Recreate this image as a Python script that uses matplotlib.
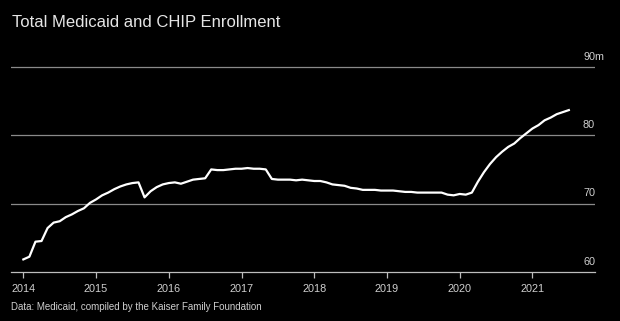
import numpy as np
import matplotlib
matplotlib.use("Agg")
import matplotlib.pyplot as plt

# monthly enrollment, millions, Jan 2014 .. Jul 2021
enroll_2014 = [61.8, 62.2, 64.4, 64.5, 66.4, 67.2, 67.4, 68.0, 68.4, 68.9, 69.3, 70.1]
enroll_2015 = [70.6, 71.2, 71.6, 72.1, 72.5, 72.8, 73.0, 73.1, 70.9, 71.8, 72.4, 72.8]
enroll_2016 = [73.0, 73.1, 72.9, 73.2, 73.5, 73.6, 73.7, 75.0, 74.9, 74.9, 75.0, 75.1]
enroll_2017 = [75.1, 75.2, 75.1, 75.1, 75.0, 73.6, 73.5, 73.5, 73.5, 73.4, 73.5, 73.4]
enroll_2018 = [73.3, 73.3, 73.1, 72.8, 72.7, 72.6, 72.3, 72.2, 72.0, 72.0, 72.0, 71.9]
enroll_2019 = [71.9, 71.9, 71.8, 71.7, 71.7, 71.6, 71.6, 71.6, 71.6, 71.6, 71.3, 71.2]
enroll_2020 = [71.4, 71.3, 71.6, 73.2, 74.6, 75.8, 76.8, 77.6, 78.3, 78.8, 79.6, 80.3]
enroll_2021 = [81.0, 81.5, 82.2, 82.6, 83.1, 83.4, 83.7]

years = [2014, 2015, 2016, 2017, 2018, 2019, 2020, 2021]
y_ticks = [60, 70, 80, 90]
y_labels = ["60", "70", "80", "90m"]

values = (enroll_2014 + enroll_2015 + enroll_2016 + enroll_2017
          + enroll_2018 + enroll_2019 + enroll_2020 + enroll_2021)
dates = 2014 + np.arange(len(values)) / 12.0

plt.rcParams["font.family"] = ["Liberation Sans", "DejaVu Sans"]

fig = plt.figure(figsize=(6.2, 3.21), dpi=100, facecolor="black")
ax = fig.add_axes([0.0177, 0.1536, 0.9420, 0.6585], facecolor="black")

ax.plot(dates, values, color="white", lw=1.6, solid_joinstyle="round", zorder=3)

ax.set_xlim(2013.83, 2021.86)
ax.set_ylim(60, 91)

for v in y_ticks[1:]:
    ax.axhline(v, color="#8a8a8a", lw=0.9, zorder=1)
for v, lab in zip(y_ticks, y_labels):
    # the unit suffix hangs past the right edge, numbers stay aligned
    dx = 6.5 if lab.endswith("m") else 0
    ax.annotate(lab, xy=(1.0, v), xycoords=ax.get_yaxis_transform(),
                xytext=(dx, 7.3), textcoords="offset points",
                ha="right", va="center", color="#cfcfcf", fontsize=7.8)

for s in ["top", "right", "left"]:
    ax.spines[s].set_visible(False)
ax.spines["bottom"].set_color("#bdbdbd")
ax.spines["bottom"].set_linewidth(0.9)
ax.set_yticks([])
ax.set_xticks(years)
ax.set_xticklabels([str(y) for y in years])
ax.tick_params(axis="x", colors="#bdbdbd", length=4, width=0.9,
               labelcolor="#cfcfcf", labelsize=7.8, pad=5)

fig.text(0.019, 0.93, "Total Medicaid and CHIP Enrollment", color="#e6e6e6",
         fontsize=12, ha="left", va="center")
fig.text(0.018, 0.044, "Data: Medicaid, compiled by the Kaiser Family Foundation",
         color="#cfcfcf", fontsize=7.0, ha="left", va="center")

fig.savefig("out.png", dpi=100, facecolor="black")
